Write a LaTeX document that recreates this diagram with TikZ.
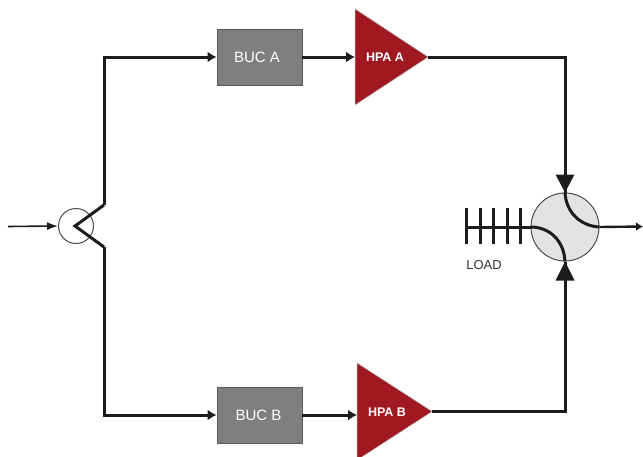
\documentclass[tikz,border=0pt]{standalone}
\usepackage{fontspec}
\setmainfont{Liberation Sans}
\usetikzlibrary{arrows.meta}
\definecolor{ink}{HTML}{1C1C1C}
\definecolor{bucgray}{HTML}{7F7F7F}
\definecolor{hpared}{HTML}{A01820}
\definecolor{circfill}{HTML}{E3E3E3}
\tikzset{
  x=1pt,y=-1pt,
  wire/.style={draw=ink,line width=3pt,line join=miter},
  wirearrow/.style={wire,-{Latex[length=9pt,width=11pt]}},
  bigtip/.style={fill=ink,draw=none},
  bucbox/.style={draw=black!65,line width=0.9pt,fill=bucgray,minimum width=85pt,minimum height=56pt,inner sep=0pt},
  buclabel/.style={text=white,inner sep=0pt,font=\fontsize{15}{17}\selectfont},
  hpatri/.style={fill=hpared,draw=black!35,line width=0.5pt},
  hpatext/.style={text=white,inner sep=0pt,font=\bfseries\fontsize{12.5}{14}\selectfont},
  circring/.style={circle,draw=black!70,line width=1pt,inner sep=0pt},
  loadbar/.style={draw=ink,line width=3pt},
}
\begin{document}
\begin{tikzpicture}
\useasboundingbox (0,0) rectangle (643,456);
\clip (0,0) rectangle (643,456);
% splitter
\node[circring,minimum size=35pt] (split) at (76,226) {};
\coordinate (inp) at (8,226.5);
\coordinate (apex) at (75,226);
\coordinate (bendA) at (104,205);
\coordinate (bendB) at (104,247);
\draw[draw=ink,line width=1.6pt,-{Latex[length=11pt,width=8pt]}] (inp) -- (split.west);
% boxes
\node[bucbox] (bucA) at (259.5,57) {};
\node[bucbox] (bucB) at (259.5,415) {};
\node[buclabel] (bucAt) at (257,57) {BUC A};
\node[buclabel] (bucBt) at (258.5,415) {BUC B};
% amplifiers
\coordinate (hpaAin) at (355,57);
\coordinate (hpaAtip) at (428,57);
\coordinate (hpaBin) at (357,415);
\coordinate (hpaBtip) at (432,411.5);
\draw[hpatri] (355,9) -- (hpaAtip) -- (355,105) -- cycle;
\draw[hpatri] (357,363) -- (hpaBtip) -- (357,460) -- cycle;
\node[hpatext] (hpaA) at (385,57) {HPA A};
\node[hpatext] (hpaB) at (387,412) {HPA B};
% circulator
\node[circring,fill=circfill,minimum size=68pt] (circ) at (565,227) {};
\coordinate (out) at (643,226.5);
\coordinate (loadend) at (467,227);
% wires
\draw[wire] (bendA) -- (apex) -- (bendB);
\draw[wirearrow] (bendA) -- (bendA |- bucA) -- (bucA.west);
\draw[wirearrow] (bendB) -- (bendB |- bucB) -- (bucB.west);
\draw[wirearrow] (bucA.east) -- (hpaAin);
\draw[wirearrow] (bucB.east) -- (hpaBin);
\draw[wire] (hpaAtip) -- (circ.north |- hpaAtip) -- (circ.north);
\draw[wire] (hpaBtip) -- (circ.south |- hpaBtip) -- (circ.south);
% big tips
\fill[bigtip] (circ.north) -- ++(-9.5,-18) -- ++(19,0) -- cycle;
\fill[bigtip] (circ.south) -- ++(-9.5,19) -- ++(19,0) -- cycle;
% circulator arcs
\draw[wire] (circ.north) .. controls (566,212) and (580,226) .. (circ.east);
\draw[wire] (circ.west) .. controls (550,227) and (564,241) .. (circ.south);
% output
\draw[draw=ink,line width=2.4pt,-{Latex[length=7pt,width=9pt]}] (circ.east) -- (out);
% load
\draw[wire] (circ.west) -- (loadend);
\foreach \x in {466,480,493,507,520}
  \draw[loadbar] (\x,208) -- (\x,244);
\node[inner sep=0pt,text=black!80,font=\fontsize{13}{15}\selectfont] (load) at (484,265) {LOAD};
\end{tikzpicture}
\end{document}
